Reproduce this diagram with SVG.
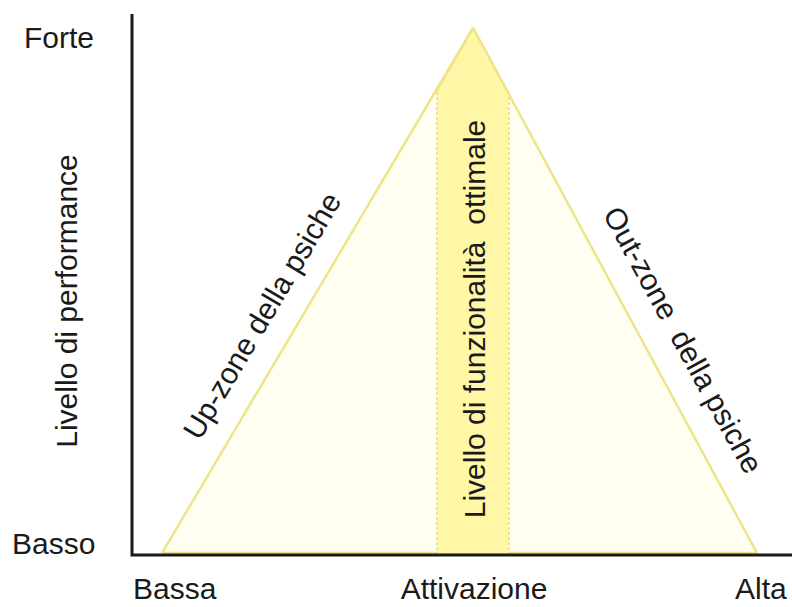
<svg xmlns="http://www.w3.org/2000/svg" width="792" height="607" viewBox="0 0 792 607">
  <style>
    .t { font-family: "Liberation Sans", Arial, sans-serif; font-size: 30px; fill: #1a1a1a; }
    .axis { stroke: #1a1a1a; stroke-width: 3; fill: none; }
    .tri { fill: #fffef1; stroke: #efe48a; stroke-width: 2.5; stroke-linejoin: round; }
    .band { fill: #fff6a6; stroke: none; }
    .bandedge { stroke: #dccd78; stroke-width: 1; stroke-dasharray: 3 2; fill: none; }
  </style>
  <rect width="792" height="607" fill="#ffffff"/>
  <g id="triangle">
    <polygon class="tri" points="162,553 473,28 757,553"/>
  </g>
  <g id="band">
    <polygon class="band" points="437,553 437,90 473,29 509,95 509,553"/>
    <line class="bandedge" x1="437" y1="92" x2="437" y2="553"/>
    <line class="bandedge" x1="509" y1="97" x2="509" y2="553"/>
    <polyline points="435,93.5 473,28 511,98" fill="none" stroke="#efe48a" stroke-width="2.5" stroke-linejoin="round"/>
    <text class="t" transform="translate(485,319) rotate(-90)" text-anchor="middle" xml:space="preserve">Livello di funzionalità  ottimale</text>
  </g>
  <g id="axes">
    <polyline class="axis" points="132,14 132,555 792,555"/>
  </g>
  <g id="labels">
    <text class="t" x="24" y="48">Forte</text>
    <text class="t" x="12" y="554">Basso</text>
    <text class="t" transform="translate(77,301) rotate(-90)" text-anchor="middle">Livello di performance</text>
    <text class="t" x="133" y="599">Bassa</text>
    <text class="t" x="474" y="599" text-anchor="middle">Attivazione</text>
    <text class="t" x="735" y="599">Alta</text>
  </g>
  <g id="upzone">
    <text class="t" transform="translate(271,321) rotate(-59.4)" text-anchor="middle">Up-zone della psiche</text>
  </g>
  <g id="outzone">
    <text class="t" transform="translate(674,345) rotate(61.3)" text-anchor="middle" xml:space="preserve">Out-zone  della psiche</text>
  </g>
</svg>
